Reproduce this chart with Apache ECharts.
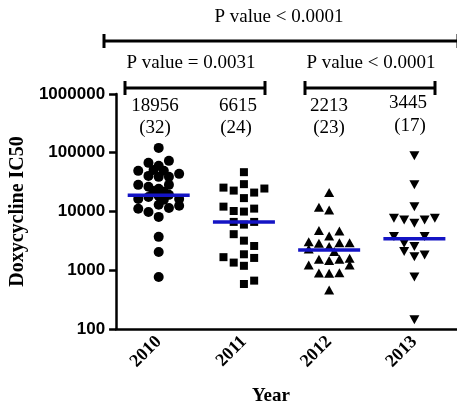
<!DOCTYPE html>
<html>
<head>
<meta charset="utf-8">
<script src="https://cdn.jsdelivr.net/npm/echarts@6/dist/echarts.min.js"></script>
<style>
html,body{margin:0;padding:0;background:#fff;}
#chart{width:457px;height:407px;}
</style>
</head>
<body>
<div id="chart"></div>
<script>
// ---------- data ----------
const years = ['2010', '2011', '2012', '2013'];
const yTickLabels = ['100', '1000', '10000', '100000', '1000000'];

const values2010 = [121000, 67300, 72800, 59800, 49200, 51100, 49200, 40400, 38900, 38900, 43700,
  28400, 26300, 24300, 28400, 22400, 21600, 16400, 17700, 18400, 19200, 16400, 15800,
  11100, 9840, 13000, 11500, 12500, 8090, 3700, 2050, 770];
const slots2010 = [0, -1, 1, 0, -2, -0.5, 0.5, -1, 0, 1, 2,
  -2, -1, 0, 1, -0.5, 0.5, -2, -1, 0, 1, 2, 0.5,
  -2, -1, 0, 1, 2, 0, 0, 0, 0];

const values2011 = [46700, 25500, 22700, 29200, 21000, 24600, 16900, 12100, 10200, 9970, 11200,
  6650, 5980, 6650, 4110, 3190, 2590, 1670, 1350, 1870, 1620, 1190, 584, 666];
const slots2011 = [0, -2, -1, 0, 1, 2, 0, -2, -1, 0, 1,
  -1, 0, 1, -1, 0, 1, -2, -1, 0, 1, 0, 0, 1];

const values2012 = [21000, 11800, 10600, 4730, 3840, 4670, 3070, 2890, 2530, 2950, 2950,
  2310, 2090, 1540, 1460, 1540, 1600, 1230, 1230, 900, 889, 910, 462];
const slots2012 = [0, -1, 0, -1, 0, 1, -2, -1, 0, 1, 2,
  -2, 0.5, -1, 0, 1, 2, -2, 2, -1, 0, 1, 0];

const values2013 = [88500, 28400, 12100, 7690, 7200, 6320, 7200, 7690, 3740, 3740, 2890,
  2530, 2080, 1700, 1820, 770, 143];
const slots2013 = [0, 0, 0, -2, -1, 0, 1, 2, -2, 1, -1,
  0, -1, 0, 1, 0, 0];

const medians = [18956, 6615, 2213, 3445];
const counts = [32, 24, 23, 17];
const pLabels = ['P value < 0.0001', 'P value = 0.0031', 'P value < 0.0001'];

// ---------- build ----------
const SLOT = 0.12;
function pts(i, vals, slots) {
  return vals.map((v, k) => [i + slots[k] * SLOT, v]);
}
const groups = [
  { vals: values2010, slots: slots2010, symbol: 'circle', size: 10, rotate: 0 },
  { vals: values2011, slots: slots2011, symbol: 'rect', size: 8, rotate: 0 },
  { vals: values2012, slots: slots2012, symbol: 'triangle', size: [10, 9], rotate: 0 },
  { vals: values2013, slots: slots2013, symbol: 'triangle', size: [10, 9], rotate: 180 }
];

const series = groups.map((g, i) => ({
  type: 'scatter',
  name: years[i],
  xAxisIndex: 1,
  yAxisIndex: 0,
  data: pts(i, g.vals, g.slots),
  symbol: g.symbol,
  symbolSize: g.size,
  symbolRotate: g.rotate,
  itemStyle: { color: '#000', opacity: 1 },
  z: 2,
  silent: true
}));
series.push({
  type: 'scatter',
  name: 'median',
  xAxisIndex: 1,
  yAxisIndex: 0,
  data: medians.map((m, i) => [i, m]),
  symbol: 'rect',
  symbolSize: [62, 3.5],
  itemStyle: { color: '#1414c4', opacity: 1 },
  z: 5,
  silent: true
});

const serif = 'Liberation Serif, Times New Roman, serif';
const sans = 'Liberation Sans, Arial, sans-serif';
const black = '#000';

function bracket(x1, x2, y, capH) {
  return [
    { type: 'line', shape: { x1: x1, y1: y, x2: x2, y2: y }, style: { stroke: black, lineWidth: 3 } },
    { type: 'line', shape: { x1: x1, y1: y - capH, x2: x1, y2: y + capH }, style: { stroke: black, lineWidth: 3 } },
    { type: 'line', shape: { x1: x2, y1: y - capH, x2: x2, y2: y + capH }, style: { stroke: black, lineWidth: 3 } }
  ];
}
function txt(s, x, y, size, weight, family) {
  return { type: 'text', x: x, y: y, style: { text: s, fill: black, font: (weight || 'normal') + ' ' + size + 'px ' + (family || serif), textAlign: 'center', textVerticalAlign: 'middle' } };
}

const medPos = [[155, 106, 155, 128], [238, 106, 236, 128], [329, 106, 329, 128], [408, 103, 410, 126]];
let graphics = [];
graphics = graphics.concat(bracket(104, 458, 41, 7));
graphics = graphics.concat(bracket(125, 265, 88, 7));
graphics = graphics.concat(bracket(305, 435, 88, 7));
graphics.push(txt(pLabels[0], 279, 17, 19));
graphics.push(txt(pLabels[1], 191, 63, 19));
graphics.push(txt(pLabels[2], 371, 63, 19));
medians.forEach((m, i) => {
  graphics.push(txt(String(m), medPos[i][0], medPos[i][1], 19));
  graphics.push(txt('(' + counts[i] + ')', medPos[i][2], medPos[i][3], 19));
});
graphics.push(txt('Year', 271, 396, 19, 'bold'));

const chart = echarts.init(document.getElementById('chart'), null, { renderer: 'canvas' });
chart.setOption({
  animation: false,
  backgroundColor: '#fff',
  grid: { left: 108, top: 94, width: 352, height: 235 },
  xAxis: [
    {
      type: 'category',
      data: years,
      boundaryGap: true,
      axisLine: { onZero: false, lineStyle: { color: black, width: 2.5 } },
      axisTick: { alignWithLabel: true, length: 7, lineStyle: { color: black, width: 2.5 } },
      axisLabel: { rotate: 45, margin: 10, color: black, fontFamily: serif, fontWeight: 'bold', fontSize: 18 },
      splitLine: { show: false }
    },
    {
      type: 'value',
      min: -0.5,
      max: 3.5,
      show: false,
      axisLine: { show: false, onZero: false },
      axisTick: { show: false },
      axisLabel: { show: false },
      splitLine: { show: false }
    }
  ],
  yAxis: {
    type: 'log',
    logBase: 10,
    min: 100,
    max: 1000000,
    name: 'Doxycycline IC50',
    nameLocation: 'middle',
    nameGap: 88,
    nameRotate: 90,
    nameTextStyle: { color: black, fontFamily: serif, fontWeight: 'bold', fontSize: 20 },
    axisLine: { show: true, onZero: false, lineStyle: { color: black, width: 2.5 } },
    axisTick: { show: true, inside: false, length: 7, lineStyle: { color: black, width: 2.5 } },
    axisLabel: {
      color: black, fontFamily: sans, fontWeight: 'bold', fontSize: 17, margin: 11,
      formatter: function (v) {
        const idx = Math.round(Math.log10(v)) - 2;
        return yTickLabels[idx] !== undefined ? yTickLabels[idx] : '';
      }
    },
    splitLine: { show: false },
    minorTick: { show: false }
  },
  series: series,
  graphic: graphics
});
</script>
</body>
</html>
